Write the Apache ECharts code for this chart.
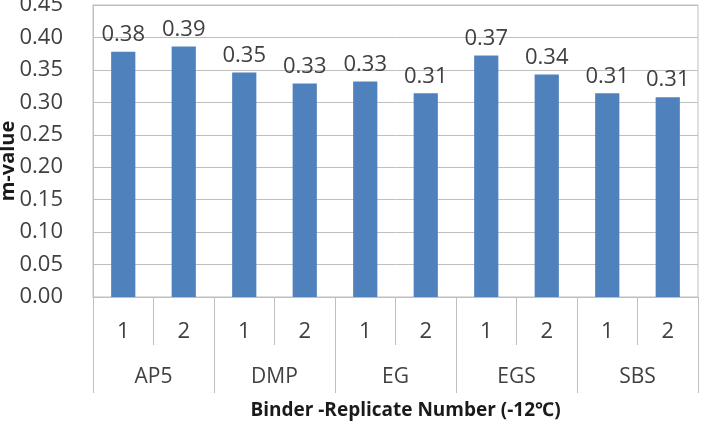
<!DOCTYPE html>
<html>
<head>
<meta charset="utf-8">
<script src="https://cdn.jsdelivr.net/npm/echarts@6/dist/echarts.min.js"></script>
<style>
  html, body { margin: 0; padding: 0; background: #fff; }
  #chart { width: 711px; height: 427px; }
</style>
</head>
<body>
<div id="chart"></div>
<script>
// replicate labels (inner axis) and binder groups (outer axis)
const replicates = ['1', '2', '1', '2', '1', '2', '1', '2', '1', '2'];
const binders = ['AP5', 'DMP', 'EG', 'EGS', 'SBS'];
// m-value per bar
const mValues = [0.378, 0.386, 0.346, 0.329, 0.332, 0.314, 0.372, 0.343, 0.314, 0.308];

const FONT = '"Open Sans", "Noto Sans", sans-serif';
const TEXT = '#404040';
const GRID_GRAY = '#bfbfbf';

const chart = echarts.init(document.getElementById('chart'));

const option = {
  animation: false,
  grid: {
    left: 93,
    right: 13,
    top: 5,
    bottom: 130,
    outerBoundsMode: 'none',
    containLabel: false,
    show: true,
    borderColor: GRID_GRAY,
    borderWidth: 1
  },
  xAxis: [
    {
      type: 'category',
      data: replicates,
      position: 'bottom',
      axisLine: { show: true, lineStyle: { color: GRID_GRAY } },
      axisTick: { show: true, length: 48, interval: 0, lineStyle: { color: GRID_GRAY } },
      axisLabel: { interval: 0, margin: 24, fontSize: 22, color: TEXT, fontFamily: FONT }
    },
    {
      type: 'category',
      data: binders,
      position: 'bottom',
      axisLine: { show: false },
      axisTick: { show: true, length: 96, interval: 0, lineStyle: { color: GRID_GRAY } },
      axisLabel: { interval: 0, margin: 70, fontSize: 21, color: TEXT, fontFamily: FONT },
      name: 'Binder -Replicate Number (-12℃)',
      nameLocation: 'middle',
      nameGap: 104,
      nameMoveOverlap: false,
      nameTextStyle: {
        fontSize: 19, fontWeight: 'bold', color: '#1a1a1a', fontFamily: FONT,
        padding: [0, 0, 0, 20]
      }
    }
  ],
  yAxis: {
    type: 'value',
    min: 0,
    max: 0.45,
    interval: 0.05,
    axisLine: { show: true, lineStyle: { color: GRID_GRAY } },
    axisTick: { show: false },
    splitLine: { lineStyle: { color: GRID_GRAY } },
    axisLabel: {
      margin: 30,
      fontSize: 22,
      color: TEXT,
      fontFamily: FONT,
      formatter: (v) => v.toFixed(2)
    },
    name: 'm-value',
    nameLocation: 'middle',
    nameRotate: 90,
    nameGap: 75,
    nameMoveOverlap: false,
    nameTextStyle: {
      fontSize: 20, fontWeight: 'bold', color: '#1a1a1a', fontFamily: FONT,
      padding: [0, 20, 0, 0]
    }
  },
  series: [
    {
      type: 'bar',
      xAxisIndex: 0,
      data: mValues,
      barWidth: '40%',
      itemStyle: { color: '#4f81bd' },
      label: {
        show: true,
        position: 'top',
        distance: 6,
        fontSize: 22,
        color: TEXT,
        fontFamily: FONT,
        formatter: (p) => p.value.toFixed(2)
      }
    }
  ]
};

chart.setOption(option);
</script>
</body>
</html>
